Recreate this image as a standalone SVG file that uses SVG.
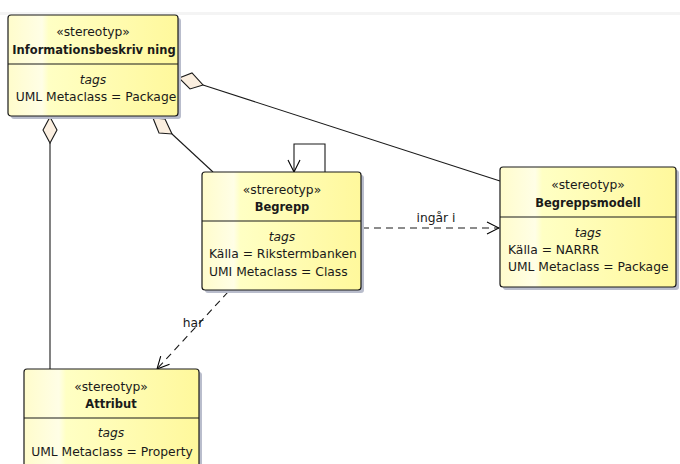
<svg xmlns="http://www.w3.org/2000/svg" width="680" height="464" viewBox="0 0 680 464">
  <defs>
    <linearGradient id="fill" x1="0" y1="0" x2="1" y2="0">
      <stop offset="0" stop-color="#fffccb"/>
      <stop offset="0.2" stop-color="#fffee6"/>
      <stop offset="0.24" stop-color="#ffffc4"/>
      <stop offset="1" stop-color="#fff89c"/>
    </linearGradient>
    <marker id="open" viewBox="0 0 14 14" refX="13" refY="7" markerWidth="14" markerHeight="14" markerUnits="userSpaceOnUse" orient="auto">
      <path d="M1,1 L13,7 L1,13" fill="none" stroke="#000" stroke-width="1.1"/>
    </marker>
  </defs>
  <style>
    .shadow { fill: #b9bdcc; }
    .box { fill: url(#fill); stroke: #1a1a1a; stroke-width: 1.2; }
    .div { stroke: #1a1a1a; stroke-width: 1.2; }
    text { font-family: "DejaVu Sans", "Liberation Sans", sans-serif; font-size: 12.3px; fill: #1a1a1a; }
    .c { text-anchor: middle; }
    .b { font-weight: bold; font-size: 11.5px; }
    .i { font-style: italic; }
    .line { fill: none; stroke: #1a1a1a; stroke-width: 1.1; }
    .dash { fill: none; stroke: #1a1a1a; stroke-width: 1.1; stroke-dasharray: 7 5; }
    .dia { fill: #fbefe0; stroke: #1a1a1a; stroke-width: 1.1; }
  </style>

  <rect x="0" y="12" width="680" height="3" fill="#f4f4f4"/>

  <g id="connectors">
    <!-- aggregations from Informationsbeskrivning -->
    <line class="line" x1="203" y1="85" x2="500" y2="181"/>
    <polygon class="dia" points="179,78 192,73 203,85 190,89"/>
    <line class="line" x1="50" y1="143" x2="50" y2="369"/>
    <polygon class="dia" points="50,117 57,130 50,143 43,130"/>
    <line class="line" x1="172" y1="134" x2="213" y2="172"/>
    <polygon class="dia" points="153,118 165,119 172,134 159,133"/>
    <!-- self reference on Begrepp -->
    <path class="line" d="M325,172 L325,144 L294,144 L294,172" marker-end="url(#open)"/>
    <!-- dependencies -->
    <line class="dash" x1="362" y1="228" x2="499" y2="228" marker-end="url(#open)"/>
    <text x="436" y="222" class="c">ingår i</text>
    <line class="dash" x1="228" y1="292" x2="157" y2="369" marker-end="url(#open)"/>
    <text x="193" y="327" class="c">har</text>
  </g>

  <g id="informationsbeskrivning">
    <rect class="shadow" x="11" y="18" width="170" height="101" rx="3"/>
    <rect class="box" x="8" y="15" width="170" height="101" rx="3"/>
    <line class="div" x1="8" y1="64" x2="178" y2="64"/>
    <text x="93" y="36" class="c">«stereotyp»</text>
    <text x="94" y="54" class="c b">Informationsbeskriv ning</text>
    <text x="93" y="84" class="c i">tags</text>
    <text x="96" y="101" class="c">UML Metaclass = Package</text>
  </g>

  <g id="begrepp">
    <rect class="shadow" x="205" y="175" width="159" height="118" rx="3"/>
    <rect class="box" x="202" y="172" width="159" height="118" rx="3"/>
    <line class="div" x1="202" y1="221" x2="361" y2="221"/>
    <text x="282" y="194" class="c">«strereotyp»</text>
    <text x="282" y="211" class="c b">Begrepp</text>
    <text x="282" y="241" class="c i">tags</text>
    <text x="209" y="258">Källa = Rikstermbanken</text>
    <text x="209" y="276">UMI Metaclass = Class</text>
  </g>

  <g id="begreppsmodell">
    <rect class="shadow" x="503" y="170" width="176" height="120" rx="3"/>
    <rect class="box" x="500" y="167" width="176" height="120" rx="3"/>
    <line class="div" x1="500" y1="217" x2="676" y2="217"/>
    <text x="588" y="189" class="c">«stereotyp»</text>
    <text x="588" y="207" class="c b">Begreppsmodell</text>
    <text x="588" y="237" class="c i">tags</text>
    <text x="508" y="254">Källa = NARRR</text>
    <text x="508" y="271">UML Metaclass = Package</text>
  </g>

  <g id="attribut">
    <rect class="shadow" x="27" y="372" width="175" height="100" rx="3"/>
    <rect class="box" x="24" y="369" width="175" height="100" rx="3"/>
    <line class="div" x1="24" y1="418" x2="199" y2="418"/>
    <text x="111" y="391" class="c">«stereotyp»</text>
    <text x="111" y="408" class="c b">Attribut</text>
    <text x="111" y="437" class="c i">tags</text>
    <text x="112" y="456" class="c">UML Metaclass = Property</text>
  </g>
</svg>
